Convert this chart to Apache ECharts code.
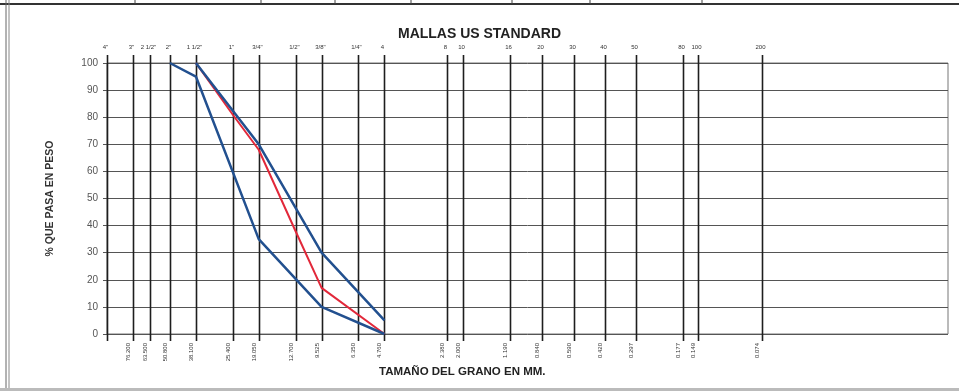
<!DOCTYPE html>
<html>
<head>
<meta charset="utf-8">
<script src="https://cdn.jsdelivr.net/npm/echarts@6/dist/echarts.min.js"></script>
<style>
  html, body { margin: 0; padding: 0; background: #fff; }
  #chart { width: 959px; height: 392px; }
</style>
</head>
<body>
<div id="chart"></div>
<script>
// Sieve openings (mm), US standard sieve names and printed opening labels
const sieveSizes = [101.6, 76.2, 63.5, 50.8, 38.1, 25.4, 19.05, 12.7, 9.525, 6.35, 4.76,
                    2.38, 2.0, 1.19, 0.84, 0.59, 0.42, 0.297, 0.177, 0.149, 0.074];
const sieveNames = ['4"', '3"', '2 1/2"', '2"', '1 1/2"', '1"', '3/4"', '1/2"', '3/8"', '1/4"', '4',
                    '8', '10', '16', '20', '30', '40', '50', '80', '100', '200'];
const sieveOpenings = ['', '76.200', '63.500', '50.800', '38.100', '25.400', '19.050', '12.700', '9.525', '6.350', '4.760',
                       '2.380', '2.000', '1.190', '0.840', '0.590', '0.420', '0.297', '0.177', '0.149', '0.074'];

// Percent passing axis
const yTicks = [0, 10, 20, 30, 40, 50, 60, 70, 80, 90, 100];

// Gradation envelopes (upper / lower limits) and the tested sample
const upperSizes = [38.1, 19.05, 9.525, 4.76];
const upperPass  = [100, 70, 30, 5];
const lowerSizes = [50.8, 38.1, 19.05, 9.525, 4.76];
const lowerPass  = [100, 95, 35, 10, 0];
const sampleSizes = [38.1, 25.4, 19.05, 12.7, 9.525, 4.76];
const samplePass  = [100, 81, 68, 38, 17, 0];

const pairs = (xs, ys) => xs.map((x, i) => [x, ys[i]]);

const chart = echarts.init(document.getElementById('chart'), null, { renderer: 'canvas' });

const option = {
  animation: false,
  backgroundColor: '#ffffff',
  title: {
    text: 'MALLAS US STANDARD',
    left: 'center',
    top: 22,
    textStyle: { fontFamily: 'Liberation Sans', fontSize: 14, fontWeight: 'bold', color: '#222' }
  },
  grid: {
    left: 107, right: 11, top: 63, bottom: 58,
    show: true, borderColor: '#777', borderWidth: 1, backgroundColor: 'transparent'
  },
  xAxis: {
    type: 'log',
    logBase: 10,
    min: 0.0095,
    max: 101.6,
    inverse: true,
    axisLine: { show: false },
    axisTick: { show: false },
    axisLabel: { show: false },
    splitLine: { show: false }
  },
  yAxis: {
    type: 'value',
    min: yTicks[0],
    max: yTicks[yTicks.length - 1],
    interval: 10,
    name: '% QUE PASA EN PESO',
    nameLocation: 'middle',
    nameGap: 51,
    nameTextStyle: { fontFamily: 'Liberation Sans', fontSize: 10.5, fontWeight: 'bold', color: '#333' },
    axisLine: { show: true, lineStyle: { color: '#444', width: 1 } },
    axisTick: { show: true, length: 4, lineStyle: { color: '#555' } },
    axisLabel: { margin: 9, fontFamily: 'Liberation Sans', fontSize: 10, color: '#555' },
    splitLine: { show: true, lineStyle: { color: '#555', width: 1 } }
  },
  graphic: [
    // sheet frame
    { type: 'line', shape: { x1: 0, y1: 4, x2: 959, y2: 4 }, style: { stroke: '#333', lineWidth: 2 } },
    { type: 'line', shape: { x1: 6, y1: 0, x2: 6, y2: 388 }, style: { stroke: '#666', lineWidth: 1 } },
    { type: 'line', shape: { x1: 9, y1: 0, x2: 9, y2: 388 }, style: { stroke: '#888', lineWidth: 1 } },
    { type: 'line', shape: { x1: 0, y1: 389.5, x2: 959, y2: 389.5 }, style: { stroke: '#bbb', lineWidth: 3 } },
    ...[135, 261, 335, 411, 512, 590, 702].map(x => ({
      type: 'line', shape: { x1: x, y1: 0, x2: x, y2: 4 }, style: { stroke: '#444', lineWidth: 1 }
    })),
    {
      type: 'text', left: 379, top: 366,
      style: { text: 'TAMAÑO DEL GRANO EN MM.', fontFamily: 'Liberation Sans', fontSize: 11.5, fontWeight: 'bold', fill: '#222' }
    }
  ],
  series: [
    {
      // sieve verticals with names above and openings below
      type: 'custom',
      coordinateSystem: 'cartesian2d',
      silent: true,
      z: 3,
      encode: { x: 0, y: 1 },
      data: sieveSizes.map(s => [s, 0]),
      renderItem: function (params, api) {
        const i = params.dataIndex;
        const s = api.value(0);
        const top = api.coord([s, 100]);
        const bot = api.coord([s, 0]);
        const x = Math.round(top[0]) + 0.5;
        const children = [
          { type: 'line', shape: { x1: x, y1: top[1] - 8, x2: x, y2: bot[1] + 7 },
            style: { stroke: '#1e1e1e', lineWidth: 1.6 } },
          { type: 'text', x: x - 2, y: top[1] - 16,
            style: { text: sieveNames[i], fontFamily: 'Liberation Sans', fontSize: 6, fill: '#333',
                     align: 'center', verticalAlign: 'middle' } }
        ];
        if (sieveOpenings[i]) {
          children.push({
            type: 'text', x: x - 5, y: bot[1] + 9, rotation: Math.PI / 2,
            style: { text: sieveOpenings[i], fontFamily: 'Liberation Sans', fontSize: 6, fill: '#333',
                     align: 'right', verticalAlign: 'middle' }
          });
        }
        return { type: 'group', children: children };
      }
    },
    {
      name: 'Muestra',
      type: 'line',
      z: 4,
      data: pairs(sampleSizes, samplePass),
      showSymbol: false,
      lineStyle: { color: '#e2283a', width: 2 }
    },
    {
      name: 'Límite superior',
      type: 'line',
      z: 5,
      data: pairs(upperSizes, upperPass),
      showSymbol: false,
      lineStyle: { color: '#22508f', width: 2.5 }
    },
    {
      name: 'Límite inferior',
      type: 'line',
      z: 5,
      data: pairs(lowerSizes, lowerPass),
      showSymbol: false,
      lineStyle: { color: '#22508f', width: 2.5 }
    }
  ]
};

chart.setOption(option);
</script>
</body>
</html>
